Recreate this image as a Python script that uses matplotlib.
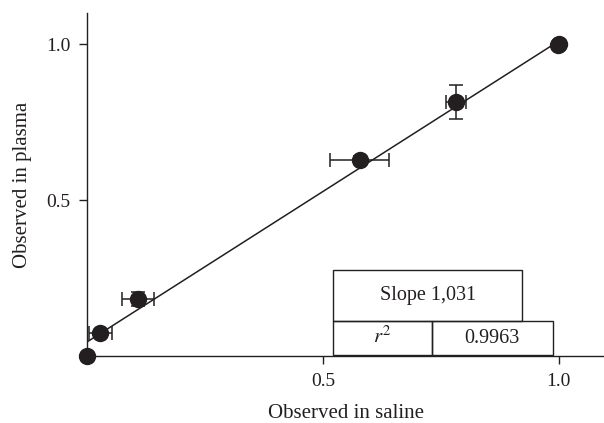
import matplotlib.pyplot as plt
import matplotlib
from matplotlib.patches import Rectangle

matplotlib.rc("font", family=['Liberation Serif', 'DejaVu Serif'])
matplotlib.rc("mathtext", fontset='stix')

# data
saline = [0.0, 0.028, 0.108, 0.578, 0.782, 0.998, 1.0]
plasma = [0.0, 0.074, 0.183, 0.628, 0.814, 0.997, 1.0]
saline_err = [0.0, 0.024, 0.033, 0.062, 0.022, 0.0, 0.0]
plasma_err = [0.0, 0.0, 0.022, 0.013, 0.055, 0.0, 0.0]
fit_x = [0.0, 1.0]
fit_slope = 0.965
fit_intercept = 0.045
ticks = [0.5, 1.0]
tick_labels = ['0.5', '1.0']
slope_text = 'Slope 1,031'
r2_label = '$r^2$'
r2_value = '0.9963'

ink = '#231f20'

fig = plt.figure(figsize=(6.04, 4.23), dpi=100)
ax = fig.add_axes([87 / 604, (423 - 356) / 423, 519 / 604, 343 / 423])

fit_y = [fit_intercept + fit_slope * v for v in fit_x]
ax.plot(fit_x, fit_y, color=ink, lw=1.1, zorder=2)
ax.errorbar(saline, plasma, xerr=saline_err, yerr=plasma_err, fmt='o',
            color=ink, ms=11.5, elinewidth=1.1, capsize=5, capthick=1.1,
            clip_on=False, zorder=3)

# table boxes
boxes = [(0.521, 0.112, 0.401, 0.164), (0.521, 0.003, 0.210, 0.109),
         (0.731, 0.003, 0.256, 0.109)]
for x0, y0, w, h in boxes:
    ax.add_patch(Rectangle((x0, y0), w, h, fill=False, ec=ink, lw=1.0, zorder=4))
ax.text(0.722, 0.194, slope_text, ha='center', va='center', fontsize=14.5, color=ink)
ax.text(0.626, 0.060, r2_label, ha='center', va='center', fontsize=15, color=ink)
ax.text(0.859, 0.057, r2_value, ha='center', va='center', fontsize=14.5, color=ink)

ax.set_xlim(0, 1.1)
ax.set_ylim(0, 1.1)
ax.set_xticks(ticks)
ax.set_xticklabels(tick_labels)
ax.set_yticks(ticks)
ax.set_yticklabels(tick_labels)
ax.spines['top'].set_visible(False)
ax.spines['right'].set_visible(False)
for s in ['left', 'bottom']:
    ax.spines[s].set_color(ink)
    ax.spines[s].set_linewidth(1.0)
ax.tick_params(direction='out', length=6, width=1.0, color=ink,
               labelsize=14, labelcolor=ink, pad=6)
ax.set_xlabel('Observed in saline', fontsize=15, color=ink, labelpad=10)
ax.set_ylabel('Observed in plasma', fontsize=15, color=ink, labelpad=10)

fig.savefig('out.png', dpi=100)
